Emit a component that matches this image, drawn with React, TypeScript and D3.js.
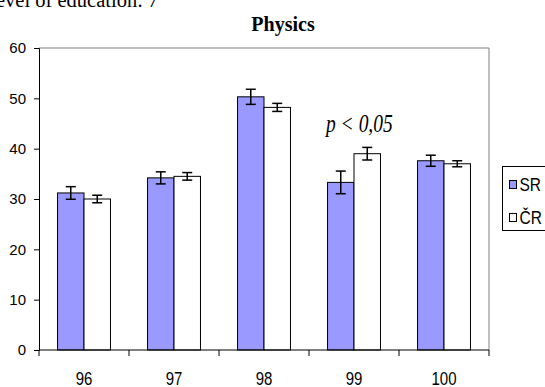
import React, { useRef, useEffect } from 'react';
import * as d3 from 'd3';

// Test numbers (x axis categories)
const categories = ['96', '97', '98', '99', '100'];
const seriesNames = ['SR', 'ČR'];
const srValues = [31.2, 34.2, 50.3, 33.3, 37.6];
const srErrors = [1.25, 1.2, 1.5, 2.25, 1.1];
const crValues = [30.0, 34.5, 48.2, 39.0, 37.0];
const crErrors = [0.75, 0.75, 0.8, 1.25, 0.6];
const yTicks = [0, 10, 20, 30, 40, 50, 60];

const WIDTH = 545;
const HEIGHT = 387;

const SANS = '"Liberation Sans", Arial, sans-serif';
const SERIF = '"Liberation Serif", "Times New Roman", serif';

const App: React.FC = () => {
  const svgRef = useRef<SVGSVGElement>(null);

  useEffect(() => {
    if (!svgRef.current) return;
    const svg = d3.select(svgRef.current);
    svg.selectAll('*').remove();

    const plot = { left: 39, right: 489, top: 48, bottom: 350 };

    const x = d3.scaleBand<string>()
      .domain(categories)
      .range([plot.left, plot.right])
      .padding(0);

    const xSub = d3.scaleBand<string>()
      .domain(seriesNames)
      .range([0, x.bandwidth()])
      .paddingInner(0)
      .paddingOuter(0.7);

    const y = d3.scaleLinear()
      .domain([0, 60])
      .range([plot.bottom, plot.top]);

    // caption line cut off at the top of the page
    svg.append('text')
      .attr('x', -4)
      .attr('y', 7)
      .style('font-family', SERIF)
      .style('font-size', '20.5px')
      .text('evel of education: 7');

    // title
    svg.append('text')
      .attr('x', 283)
      .attr('y', 31)
      .attr('text-anchor', 'middle')
      .style('font-family', SERIF)
      .style('font-size', '20px')
      .style('font-weight', 'bold')
      .text('Physics');

    // top + right frame (gray)
    svg.append('path')
      .attr('d', `M${plot.left},${plot.top}H${plot.right}V${plot.bottom}`)
      .attr('fill', 'none')
      .attr('stroke', '#808080')
      .attr('stroke-width', 1);

    // bars
    const rows = categories.map((c, i) => ({
      cat: c,
      items: [
        { key: 'SR', value: srValues[i], err: srErrors[i], fill: '#9999FF' },
        { key: 'ČR', value: crValues[i], err: crErrors[i], fill: '#FFFFFF' }
      ]
    }));

    const groups = svg.selectAll('.grp')
      .data(rows)
      .enter().append('g')
      .attr('class', 'grp')
      .attr('transform', d => `translate(${x(d.cat)},0)`);

    groups.selectAll('rect')
      .data(d => d.items)
      .enter().append('rect')
      .attr('x', d => xSub(d.key) as number)
      .attr('y', d => y(d.value))
      .attr('width', xSub.bandwidth())
      .attr('height', d => y(0) - y(d.value))
      .attr('fill', d => d.fill)
      .attr('stroke', '#000')
      .attr('stroke-width', 1);

    // error bars
    const eb = groups.selectAll('.err')
      .data(d => d.items)
      .enter().append('g')
      .attr('class', 'err')
      .attr('transform', d => `translate(${(xSub(d.key) as number) + xSub.bandwidth() / 2},0)`);

    eb.append('line')
      .attr('y1', d => y(d.value + d.err))
      .attr('y2', d => y(d.value - d.err))
      .attr('stroke', '#000')
      .attr('stroke-width', 1.5);
    eb.append('line')
      .attr('x1', -5).attr('x2', 5)
      .attr('y1', d => y(d.value + d.err))
      .attr('y2', d => y(d.value + d.err))
      .attr('stroke', '#000')
      .attr('stroke-width', 1.5);
    eb.append('line')
      .attr('x1', -5).attr('x2', 5)
      .attr('y1', d => y(d.value - d.err))
      .attr('y2', d => y(d.value - d.err))
      .attr('stroke', '#000')
      .attr('stroke-width', 1.5);

    // y axis
    const yAxis = svg.append('g')
      .attr('transform', `translate(${plot.left},0)`)
      .call(d3.axisLeft(y).tickValues(yTicks).tickSize(5).tickPadding(8));
    yAxis.select('.domain').attr('stroke', '#000');
    yAxis.selectAll('text')
      .style('font-family', SANS)
      .style('font-size', '15px')
      .attr('fill', '#000');

    // x axis: ticks on category boundaries
    const boundaries = d3.range(categories.length + 1).map(i => plot.left + i * x.step());
    const xAxis = svg.append('g');
    xAxis.append('line')
      .attr('x1', plot.left).attr('x2', plot.right)
      .attr('y1', y(0)).attr('y2', y(0))
      .attr('stroke', '#000');
    xAxis.selectAll('.xt')
      .data(boundaries)
      .enter().append('line')
      .attr('class', 'xt')
      .attr('x1', d => d).attr('x2', d => d)
      .attr('y1', y(0)).attr('y2', y(0) + 6)
      .attr('stroke', '#000');
    xAxis.selectAll('.xl')
      .data(categories)
      .enter().append('text')
      .attr('class', 'xl')
      .attr('text-anchor', 'middle')
      .attr('transform', d => `translate(${(x(d) as number) + x.bandwidth() / 2},385) scale(1,1.22)`)
      .style('font-family', SANS)
      .style('font-size', '15px')
      .text(d => d);

    // significance note
    svg.append('text')
      .attr('transform', `translate(326,131.5) scale(1,1.28)`)
      .style('font-family', SERIF)
      .style('font-style', 'italic')
      .style('font-size', '19.5px')
      .text('p < 0,05');

    // legend
    const legend = svg.append('g');
    legend.append('rect')
      .attr('x', 502.5).attr('y', 166.5)
      .attr('width', 60).attr('height', 64)
      .attr('fill', '#fff')
      .attr('stroke', '#000')
      .attr('stroke-width', 1);
    const legendItems = [
      { name: seriesNames[0], fill: '#9999FF', cy: 184.5 },
      { name: seriesNames[1], fill: '#FFFFFF', cy: 217.5 }
    ];
    const li = legend.selectAll('.li')
      .data(legendItems)
      .enter().append('g')
      .attr('class', 'li');
    li.append('rect')
      .attr('x', 509.5)
      .attr('y', d => d.cy - 4)
      .attr('width', 7).attr('height', 8)
      .attr('fill', d => d.fill)
      .attr('stroke', '#000');
    li.append('text')
      .attr('transform', d => `translate(519.5,${d.cy + 6}) scale(1,1.16)`)
      .style('font-family', SANS)
      .style('font-size', '15.5px')
      .text(d => d.name);
  }, []);

  return (
    <svg
      ref={svgRef}
      width={WIDTH}
      height={HEIGHT}
      style={{ position: 'absolute', left: 0, top: 0, background: '#fff' }}
    ></svg>
  );
};

export default App;
